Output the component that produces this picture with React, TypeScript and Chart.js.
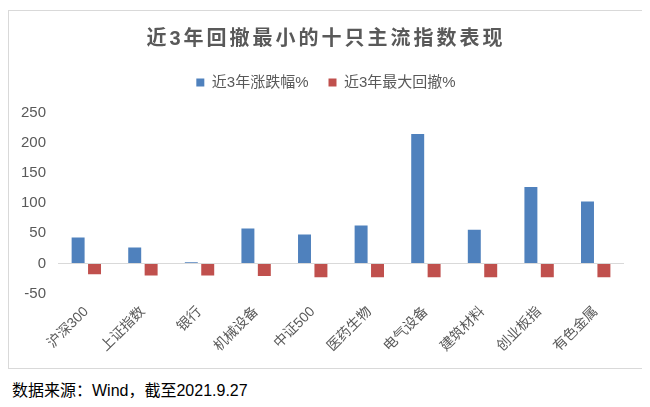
import React, { useEffect, useRef } from "react";
import { Chart, registerables } from "chart.js";

Chart.register(...registerables);

const categories = ["沪深300", "上证指数", "银行", "机械设备", "中证500", "医药生物", "电气设备", "建筑材料", "创业板指", "有色金属"];
const returnSeries = [43, 26.5, 2, 58, 48, 63, 215, 56, 127, 103];
const drawdownSeries = [-18, -20, -20, -21, -23, -23, -23, -23, -23, -23];
const seriesNames = ["近3年涨跌幅%", "近3年最大回撤%"];
const titleText = "近3年回撤最小的十只主流指数表现";
const sourceText = "数据来源：Wind，截至2021.9.27";

const FONT = "'Liberation Sans', Arial, 'Noto Sans CJK SC', sans-serif";
const GRAY = "#595959";

const boxTweaks = {
  id: "boxTweaks",
  beforeInit(chart: any) {
    const legend = chart.legend;
    if (legend) {
      const origFit = legend.fit.bind(legend);
      legend.fit = function () {
        origFit();
        this.height += 13;
      };
    }
    const title = chart.titleBlock;
    if (title) {
      const origDraw = title.draw.bind(title);
      title.draw = function () {
        const ctx = chart.ctx;
        const prev = (ctx as any).letterSpacing;
        (ctx as any).letterSpacing = "3px";
        origDraw();
        (ctx as any).letterSpacing = prev || "0px";
      };
    }
  },
};

export default function App() {
  const ref = useRef<HTMLCanvasElement | null>(null);
  useEffect(() => {
    if (!ref.current) return;
    const chart = new Chart(ref.current, {
      type: "bar",
      data: {
        labels: categories,
        datasets: [
          { label: seriesNames[0], data: returnSeries, backgroundColor: "#4F81BD", categoryPercentage: 0.58, barPercentage: 0.79 },
          { label: seriesNames[1], data: drawdownSeries, backgroundColor: "#C0504D", categoryPercentage: 0.58, barPercentage: 0.79 },
        ],
      },
      plugins: [boxTweaks],
      options: {
        animation: false,
        responsive: true,
        maintainAspectRatio: false,
        layout: { padding: { left: 0, right: 0, top: 16, bottom: 11 } },
        plugins: {
          title: {
            display: true,
            text: titleText,
            color: GRAY,
            font: { family: FONT, size: 20, weight: "bold" },
            padding: { top: 0, bottom: 4 },
          },
          legend: {
            position: "top",
            labels: {
              boxWidth: 8,
              boxHeight: 8,
              color: GRAY,
              font: { family: FONT, size: 15 },
              padding: 20,
            },
          },
          tooltip: { enabled: false },
        },
        scales: {
          x: {
            grid: { display: false },
            border: { display: false },
            afterFit(scale: any) {
              scale.paddingLeft = 0;
              scale.paddingRight = 19;
            },
            ticks: {
              color: GRAY,
              font: { family: FONT, size: 14 },
              minRotation: 45,
              maxRotation: 45,
              autoSkip: false,
              padding: 2,
            },
          },
          y: {
            min: -50,
            max: 250,
            border: { display: false },
            grid: {
              drawTicks: false,
              color: (ctx: any) => (ctx.tick && ctx.tick.value === 0 ? "#d9d9d9" : "rgba(0,0,0,0)"),
              lineWidth: 1,
            },
            ticks: {
              stepSize: 50,
              color: GRAY,
              font: { family: FONT, size: 15 },
              padding: 12,
            },
          },
        },
      },
    });
    return () => chart.destroy();
  }, []);

  return (
    <div style={{ fontFamily: FONT }}>
      <div
        style={{
          marginTop: 2,
          width: 634,
          height: 357,
          border: "1px solid #d9d9d9",
          position: "relative",
        }}
      >
        <canvas ref={ref} />
      </div>
      <div style={{ marginTop: 8, marginLeft: 4, fontSize: 16, color: "#000" }}>{sourceText}</div>
    </div>
  );
}
